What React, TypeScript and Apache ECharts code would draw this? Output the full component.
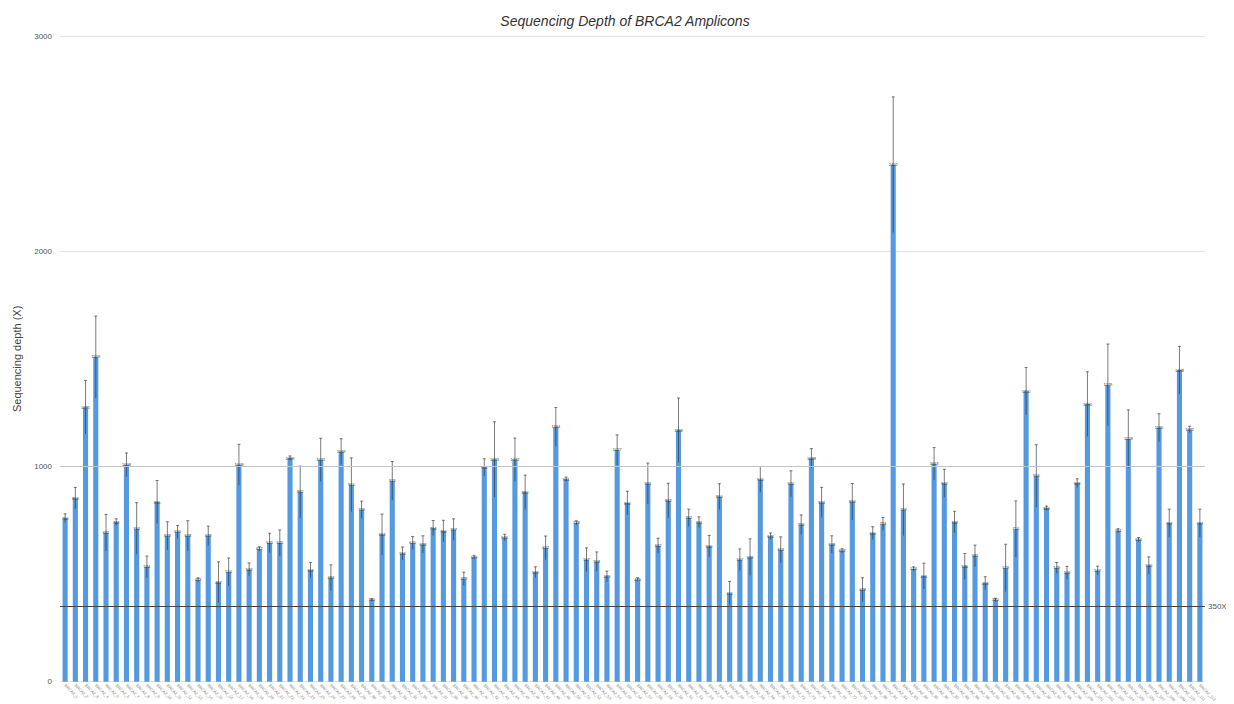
import React, { useEffect, useRef } from "react";
import * as echarts from "echarts";

const depthValues: number[] = [
  760, 853, 1275, 1509, 692, 742, 1008, 712, 534, 835, 678, 696, 678, 473, 678, 462, 510, 1008, 522, 617,
  645, 645, 1039, 882, 519, 1031, 483, 1069, 915,
  799, 380, 684, 933, 596, 645, 638, 714, 700, 707, 479, 579, 996, 1033, 670, 1032, 880, 509, 622, 1184,
  941, 738, 567, 558, 489, 1077, 830, 475, 921,
  632, 842, 1168, 762, 741, 630, 860, 411, 567, 579, 940, 676, 613, 920, 730, 1038, 833, 638, 608, 836,
  428, 690, 733, 2402, 799, 524, 491,
  1013, 922, 742, 536, 585, 458, 380, 529, 710, 1350, 956, 806, 529, 506, 923, 1290, 517, 1379, 701, 1128,
  660, 540, 1180, 737, 1448, 1172, 737,
];

const depthErrors: number[] = [
  20, 50, 125, 190, 85, 15, 55, 120, 50, 100, 65, 30, 70, 10, 45, 95, 65, 95, 30, 10, 45, 60, 10, 120, 35,
  100, 60, 60, 125,
  40, 5, 95, 90, 30, 30, 40, 35, 50, 50, 30, 8, 40, 175, 15, 100, 80, 25, 55, 90, 10, 10, 55, 45, 25, 70,
  55, 8, 95,
  35, 80, 150, 40, 25, 50, 60, 55, 50, 85, 60, 15, 60, 60, 45, 45, 70, 40, 10, 85, 55, 30, 30, 315, 120,
  10, 60,
  75, 65, 50, 60, 50, 30, 8, 110, 130, 110, 145, 10, 25, 30, 20, 150, 20, 190, 10, 135, 10, 40, 65, 65,
  110, 15, 65,
];

const ampliconNames: string[] = depthValues.map((_, i) => `BRCA2_${i + 1}`);

const yTicks = { min: 0, max: 3000, interval: 1000 };
const thresholdValue = 350;
const thresholdLabel = "350X";

export default function App() {
  const ref = useRef<HTMLDivElement>(null);

  useEffect(() => {
    if (!ref.current) return;
    const chart = echarts.init(ref.current, null, { renderer: "svg" });
    const errData = depthValues.map((v, i) => [i, v, depthErrors[i]]);

    chart.setOption({
      animation: false,
      backgroundColor: "#ffffff",
      title: {
        text: "Sequencing Depth of BRCA2 Amplicons",
        left: 620,
        textAlign: "center",
        top: 9,
        textStyle: {
          fontFamily: "Liberation Sans",
          fontStyle: "italic",
          fontWeight: "normal",
          fontSize: 14,
          color: "#333",
        },
      },
      grid: { left: 60, right: 29, top: 36, bottom: 22, containLabel: false },
      xAxis: {
        type: "category",
        data: ampliconNames,
        axisLine: { show: false },
        axisTick: { show: false },
        axisLabel: {
          interval: 0,
          rotate: -45,
          fontSize: 4,
          color: "#888",
          margin: 3,
          fontFamily: "Liberation Sans",
        },
      },
      yAxis: {
        type: "value",
        min: yTicks.min,
        max: yTicks.max,
        interval: yTicks.interval,
        name: "Sequencing depth (X)",
        nameLocation: "middle",
        nameGap: 38,
        nameTextStyle: { fontSize: 11, color: "#444", fontFamily: "Liberation Sans" },
        axisLine: { show: false },
        axisTick: { show: false },
        axisLabel: {
          fontSize: 8,
          color: "#555",
          margin: 8,
          fontFamily: "Liberation Sans",
          formatter: (v: number) => String(v),
        },
        splitLine: { lineStyle: { color: "#e2e2e2", width: 1 } },
      },
      series: [
        {
          type: "bar",
          data: depthValues,
          barWidth: "50%",
          itemStyle: { color: "#559ae0" },
          label: {
            show: true,
            position: "top",
            distance: -2,
            fontSize: 4,
            color: "#333",
            fontFamily: "Liberation Sans",
          },
          markLine: {
            silent: true,
            symbol: "none",
            data: [
              {
                yAxis: thresholdValue,
                lineStyle: { color: "#444", width: 1, type: "solid" },
                label: {
                  show: true,
                  position: "end",
                  formatter: thresholdLabel,
                  fontSize: 8,
                  color: "#555",
                  distance: 3,
                },
              },
              {
                yAxis: 1000,
                lineStyle: { color: "#c4c4c4", width: 1, type: "solid" },
                label: { show: false },
              },
            ],
          },
          z: 2,
        },
        {
          type: "custom",
          data: errData,
          encode: { x: 0, y: 1 },
          z: 3,
          renderItem: (params: any, api: any) => {
            const idx = api.value(0);
            const v = api.value(1);
            const e = api.value(2);
            const top = api.coord([idx, v + e]);
            const bot = api.coord([idx, v - e]);
            const stroke = { stroke: "rgba(50,50,50,0.65)", lineWidth: 1 };
            return {
              type: "group",
              children: [
                {
                  type: "line",
                  shape: { x1: top[0], y1: top[1], x2: bot[0], y2: bot[1] },
                  style: stroke,
                },
                {
                  type: "line",
                  shape: { x1: top[0] - 1.5, y1: top[1], x2: top[0] + 1.5, y2: top[1] },
                  style: stroke,
                },
              ],
            };
          },
        },
      ],
    });

    return () => chart.dispose();
  }, []);

  return <div ref={ref} style={{ width: 1234, height: 704, marginLeft: -8, marginTop: -8 }} />;
}
